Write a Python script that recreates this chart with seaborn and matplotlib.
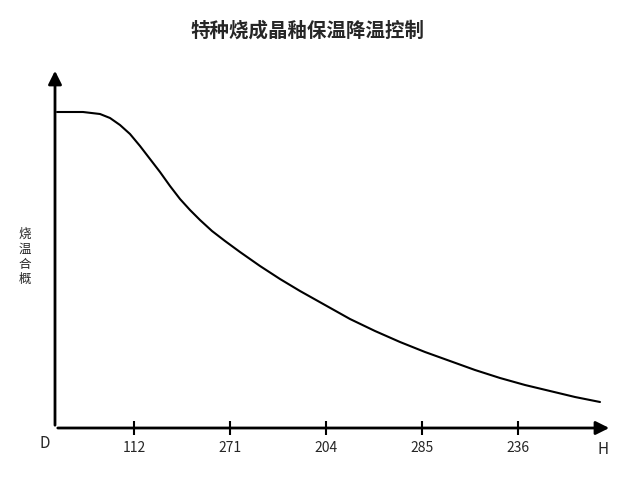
import matplotlib
matplotlib.use("Agg")
import matplotlib.pyplot as plt
import seaborn as sns
import pandas as pd

# curve (x from origin, height above the x axis)
curve_x = [2, 28, 45, 55, 65, 75, 85, 95, 105, 115, 125, 135, 145, 157, 170, 185,
           205, 225, 245, 270, 295, 320, 345, 370, 395, 420, 445, 470, 495, 520, 545]
curve_y = [316, 316, 314, 310, 303, 294, 282, 269, 256, 242, 229, 218, 208, 197, 187, 176,
           162, 149, 137, 123, 109, 97, 86, 76, 67, 58, 50, 43, 37, 31, 26]

tick_pos = [79, 175, 271, 367, 463]
tick_labels = ["112", "271", "204", "285", "236"]

title = "特种烧成晶釉保温降温控制"
ylabel = "烧温合概"

sns.set_style("white")
plt.rcParams['font.family'] = ['Noto Sans CJK SC', 'DejaVu Sans']

fig = plt.figure(figsize=(6.4, 4.8), dpi=100)
ax = fig.add_axes([55/640, 52/480, 557/640, 360/480])

df = pd.DataFrame({"x": curve_x, "y": curve_y})
sns.lineplot(data=df, x="x", y="y", ax=ax, color="black", linewidth=1.5, sort=False)

ax.set_xlim(0, 557)
ax.set_ylim(0, 360)
for s in ax.spines.values():
    s.set_visible(False)

# axes with arrows
ax.annotate("", xy=(557, 0), xytext=(0, 0),
            arrowprops=dict(arrowstyle="-|>", color="black", lw=2, mutation_scale=20),
            annotation_clip=False)
ax.annotate("", xy=(0, 360), xytext=(0, 0),
            arrowprops=dict(arrowstyle="-|>", color="black", lw=2, mutation_scale=20),
            annotation_clip=False)

ax.set_xticks(tick_pos)
ax.set_xticklabels(tick_labels, fontsize=10)
ax.tick_params(axis="x", bottom=True, direction="inout", length=10, width=1.5, pad=4,
               color="black")
ax.set_yticks([])
ax.set_xlabel("")
ax.set_ylabel("")

ax.text(-10, -15, "D", fontsize=11, ha="center", va="center")
ax.text(548, -22, "H", fontsize=11, ha="center", va="center")
ax.text(-30, 171, "\n".join(ylabel), fontsize=9, ha="center", va="center", linespacing=1.2)

fig.text(0.48, 0.935, title, fontsize=14, fontweight="bold", ha="center", va="center")

fig.savefig("out.png", dpi=100)
